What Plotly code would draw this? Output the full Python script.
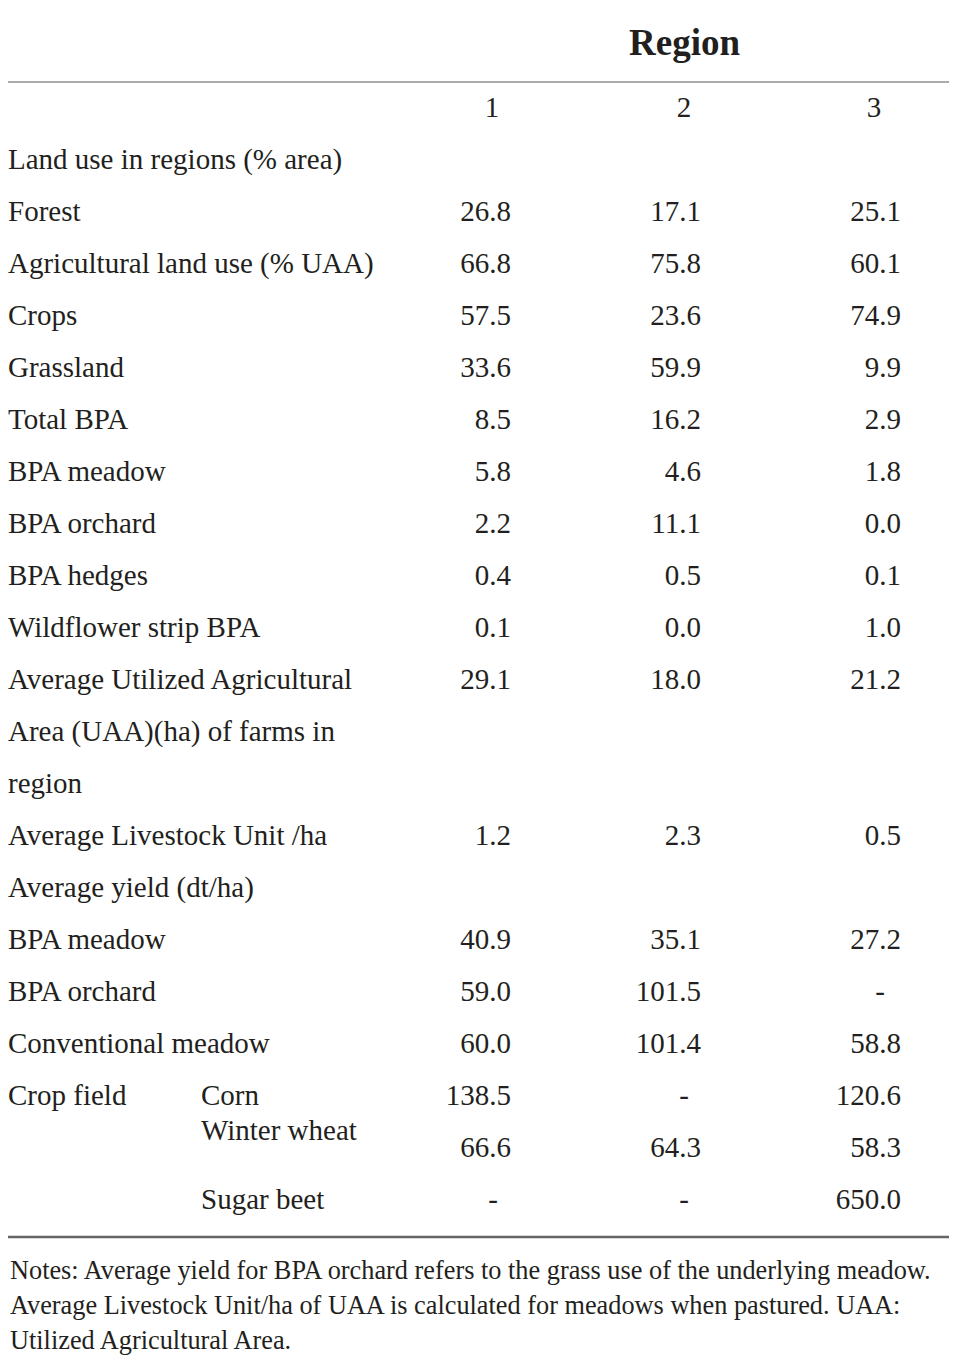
import numpy as np
import plotly.graph_objects as go

# table content
row_labels = [
    "Land use in regions (% area)",
    "Forest",
    "Agricultural land use (% UAA)",
    "Crops",
    "Grassland",
    "Total BPA",
    "BPA meadow",
    "BPA orchard",
    "BPA hedges",
    "Wildflower strip BPA",
    "Average Utilized Agricultural",
    "Area (UAA)(ha) of farms in",
    "region",
    "Average Livestock Unit /ha",
    "Average yield (dt/ha)",
    "BPA meadow",
    "BPA orchard",
    "Conventional meadow",
    "Crop field",
    "",
    "",
]
sub_labels = ["Corn", "Winter wheat", "Sugar beet"]
sub_label_rows = [19, 19.67, 21]

region_names = ["1", "2", "3"]
# None = empty cell, nan = "-"
region1 = [None, 26.8, 66.8, 57.5, 33.6, 8.5, 5.8, 2.2, 0.4, 0.1, 29.1, None, None,
           1.2, None, 40.9, 59.0, 60.0, 138.5, 66.6, np.nan]
region2 = [None, 17.1, 75.8, 23.6, 59.9, 16.2, 4.6, 11.1, 0.5, 0.0, 18.0, None, None,
           2.3, None, 35.1, 101.5, 101.4, np.nan, 64.3, np.nan]
region3 = [None, 25.1, 60.1, 74.9, 9.9, 2.9, 1.8, 0.0, 0.1, 1.0, 21.2, None, None,
           0.5, None, 27.2, np.nan, 58.8, 120.6, 58.3, 650.0]

notes = [
    "Notes: Average yield for BPA orchard refers to the grass use of the underlying meadow.",
    "Average Livestock Unit/ha of UAA is calculated for meadows when pastured. UAA:",
    "Utilized Agricultural Area.",
]

FONT = "Liberation Serif"
SIZE = 29
NOTE_SIZE = 26.3
INK = "#231f20"

# page geometry (pixels); the page body has an 8px margin
PAD = 8
W, H = 957, 1366
ROW0 = 110
ROW_H = 52
col_right = [511, 701, 901]
col_center = [493, 684, 880]
head_center = [492, 684, 874]


def row_y(i):
    return ROW0 + ROW_H * np.asarray(i, dtype=float)


fig = go.Figure()
txt = dict(family=FONT, size=SIZE, color=INK)

rows = list(range(1, len(row_labels) + 1))
fig.add_trace(go.Scatter(
    x=[PAD] * len(rows), y=row_y(rows), text=row_labels,
    mode="text", textposition="middle right", cliponaxis=False,
    textfont=txt, hoverinfo="skip",
))
fig.add_trace(go.Scatter(
    x=[201] * len(sub_labels), y=row_y(sub_label_rows), text=sub_labels,
    mode="text", textposition="middle right", cliponaxis=False,
    textfont=txt, hoverinfo="skip",
))

# column header numbers
fig.add_trace(go.Scatter(
    x=head_center, y=row_y([0, 0, 0]), text=region_names,
    mode="text", textposition="middle center", cliponaxis=False,
    textfont=txt, hoverinfo="skip",
))

for values, xr, xc in zip([region1, region2, region3], col_right, col_center):
    num_rows = [r for r, v in zip(rows, values) if v is not None and not np.isnan(v)]
    num_txt = [f"{v:.1f}" for v in values if v is not None and not np.isnan(v)]
    dash_rows = [r for r, v in zip(rows, values) if v is not None and np.isnan(v)]
    fig.add_trace(go.Scatter(
        x=[xr] * len(num_rows), y=row_y(num_rows), text=num_txt,
        mode="text", textposition="middle left", cliponaxis=False,
        textfont=txt, hoverinfo="skip",
    ))
    fig.add_trace(go.Scatter(
        x=[xc] * len(dash_rows), y=row_y(dash_rows), text=["-"] * len(dash_rows),
        mode="text", textposition="middle center", cliponaxis=False,
        textfont=txt, hoverinfo="skip",
    ))

# Region header
fig.add_annotation(x=684, y=42, text="<b>Region</b>", showarrow=False,
                   xanchor="center", yanchor="middle",
                   font=dict(family=FONT, size=37, color=INK))

# notes
for k, line in enumerate(notes):
    fig.add_annotation(x=PAD, y=1270 + 35 * k, text=line, showarrow=False,
                       xanchor="left", yanchor="middle",
                       font=dict(family=FONT, size=NOTE_SIZE, color=INK))

# rules
fig.add_shape(type="line", x0=PAD, x1=W - PAD, y0=82, y1=82,
              line=dict(color="#ababab", width=2))
fig.add_shape(type="line", x0=PAD, x1=W - PAD, y0=1237, y1=1237,
              line=dict(color="#666666", width=2.5))

fig.update_xaxes(range=[PAD, W - PAD], visible=False, fixedrange=True)
fig.update_yaxes(range=[H - PAD, PAD], visible=False, fixedrange=True)
fig.update_layout(
    width=W - 2 * PAD, height=H - 2 * PAD,
    margin=dict(l=0, r=0, t=0, b=0),
    showlegend=False,
    plot_bgcolor="white", paper_bgcolor="white",
)

fig.write_html("out.html")
